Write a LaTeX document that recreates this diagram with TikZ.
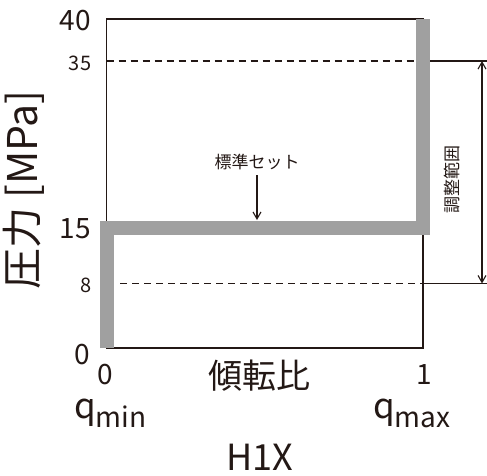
\documentclass[tikz,border=0pt]{standalone}
\usepackage{fontspec}
\setmainfont{Noto Sans CJK JP}
\usetikzlibrary{arrows.meta}
\definecolor{ink}{HTML}{231815}
\definecolor{barc}{HTML}{A0A0A0}
\tikzset{
  frame/.style={draw=ink, line width=1.3pt},
  dashline/.style={draw=ink, line width=1.1pt, dash pattern=on 7pt off 5pt},
  guide/.style={draw=ink, line width=1.1pt},
  barline/.style={draw=barc, line width=14pt, line join=miter},
  arr/.style={draw=ink, line width=1.1pt, -{Straight Barb[length=7pt,width=8pt]}},
  darr/.style={draw=ink, line width=1.1pt, {Straight Barb[length=7pt,width=8pt]}-{Straight Barb[length=7pt,width=8pt]}},
  lbl/.style={inner sep=0pt, text=ink},
  big/.style={lbl, font=\fontsize{28}{32}\selectfont},
  small/.style={lbl, font=\fontsize{20}{24}\selectfont},
  note/.style={lbl, font=\fontsize{17}{20}\selectfont},
  axis/.style={lbl, font=\fontsize{34}{38}\selectfont},
  qlab/.style={lbl, font=\fontsize{35}{40}\selectfont, anchor=base west},
}
\newcommand{\qsub}[1]{\raisebox{-9pt}{\fontsize{28}{30}\selectfont #1}}
\begin{document}
\begin{tikzpicture}[x=1pt,y=-1pt]
\useasboundingbox (0,0) rectangle (487,475);
% frame
\coordinate (TL) at (106.5,19);
\coordinate (TR) at (423,19);
\coordinate (BR) at (423,348);
\coordinate (BL) at (106.5,348);
\draw[frame] (BL) -- (TL) -- (TR) -- (BR) -- cycle;
% dashed levels
\coordinate (D35L) at (106.5,61);
\coordinate (D35R) at (423,61);
\coordinate (E35) at (487,61);
\coordinate (D8L) at (120,283.5);
\coordinate (D8R) at (423,283.5);
\coordinate (E8) at (487,283.5);
\draw[dashline] (D35L) -- (D35R);
\draw[guide] (D35R) -- (E35);
\draw[dashline] (D8L) -- (D8R);
\draw[guide] (D8R) -- (E8);
% gray characteristic
\coordinate (G0) at (107,348);
\coordinate (G1) at (107,227.5);
\coordinate (G2) at (423,227.5);
\coordinate (G3) at (423,19);
\draw[barline] (G0) -- (G1) -- (G2) -- (G3);
% range arrow
\coordinate (A35) at (482,61);
\coordinate (A8) at (482,283.5);
\draw[darr] (A35) -- (A8);
\node[note, rotate=90] (range) at (452,179) {調整範囲};
% standard set
\node[note] (std) at (257,162) {標準セット};
\coordinate (S1) at (257,175);
\coordinate (S2) at (257,220);
\draw[arr] (S1) -- (S2);
% y ticks
\node[big] (y40) at (75,21) {40};
\node[small] (y35) at (80,63.5) {35};
\node[big] (y15) at (75,229) {15};
\node[small] (y8) at (86,285.5) {8};
\node[big] (y0) at (82.5,355) {0};
% x ticks
\node[big] (x0) at (105.5,375) {0};
\node[big] (x1) at (424.5,375) {1};
\node[axis] (xlab) at (259,375.5) {傾転比};
\node[qlab] (qmin) at (74,418) {q\qsub{min}};
\node[qlab] (qmax) at (373,418) {q\qsub{max}};
\node[lbl, font=\fontsize{36}{40}\selectfont] (h1x) at (260,457.5) {H1X};
% y axis label
\node[lbl, font=\fontsize{41}{46}\selectfont, rotate=90] (ylab) at (24,190) {圧力 [MPa]};
\end{tikzpicture}
\end{document}
